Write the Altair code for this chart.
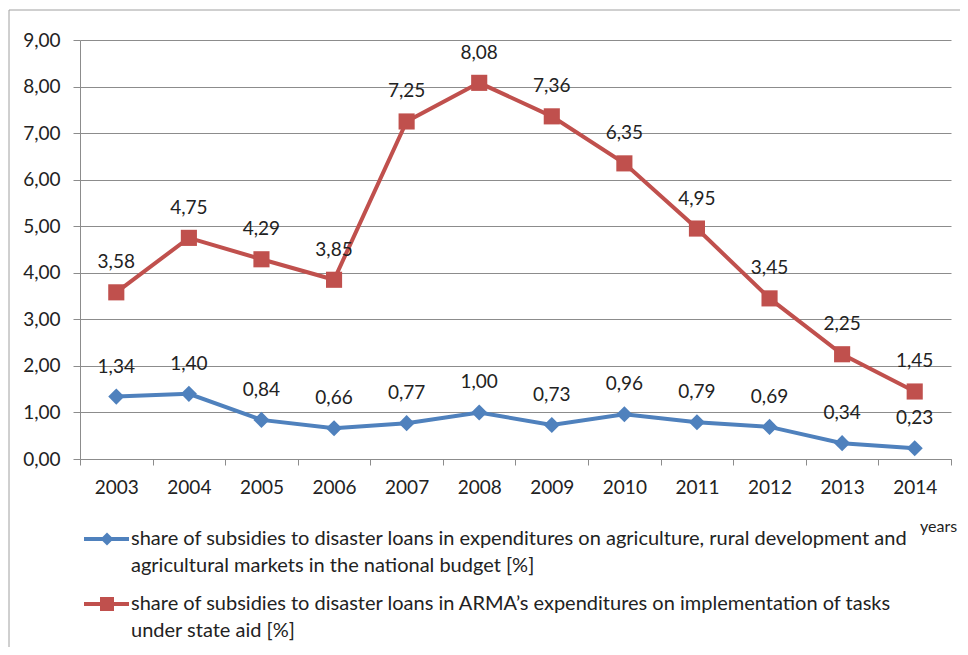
import altair as alt
import pandas as pd

# ---- data ----
years = [str(y) for y in range(2003, 2015)]
national_budget = [1.34, 1.40, 0.84, 0.66, 0.77, 1.00, 0.73, 0.96, 0.79, 0.69, 0.34, 0.23]
arma = [3.58, 4.75, 4.29, 3.85, 7.25, 8.08, 7.36, 6.35, 4.95, 3.45, 2.25, 1.45]
series_keys = ["national", "arma"]
legend_national = ["share of subsidies to disaster loans in expenditures on agriculture, rural development and",
                   "agricultural markets in the national budget [%]"]
legend_arma = ["share of subsidies to disaster loans in ARMA\u2019s expenditures on implementation of tasks",
               "under state aid [%]"]
y_ticks = list(range(10))
x_title = "years"

BLUE = "#4F81BD"
RED = "#C0504D"
GRID = "#8C8C8C"
TXT = "#222222"
FONT = "Lato"
FS = 19

df = pd.DataFrame({
    "year": years * 2,
    "value": national_budget + arma,
    "series": ["national"] * len(years) + ["arma"] * len(years),
})

W, H = 871, 419

x_enc = alt.X(
    "year:O",
    scale=alt.Scale(type="band", paddingInner=0, paddingOuter=0),
    bandPosition=0.5,
    axis=alt.Axis(title=None, tickBand="extent", labelAngle=0, grid=False,
                  domainColor=GRID, tickColor=GRID, tickSize=6,
                  labelPadding=22, labelBaseline="middle",
                  labelFont=FONT, labelFontSize=FS, labelColor=TXT),
)
y_enc = alt.Y(
    "value:Q",
    scale=alt.Scale(domain=[0, 9], nice=False, zero=True),
    axis=alt.Axis(title=None, values=y_ticks, grid=True, gridColor=GRID, gridWidth=1,
                  domainColor=GRID, tickColor=GRID, tickSize=7, labelPadding=13,
                  labelExpr="replace(format(datum.value, '.2f'), '.', ',')",
                  labelFont=FONT, labelFontSize=FS, labelColor=TXT),
)
color_enc = alt.Color("series:N", scale=alt.Scale(domain=series_keys, range=[BLUE, RED]), legend=None)
shape_enc = alt.Shape("series:N", scale=alt.Scale(domain=series_keys, range=["diamond", "square"]), legend=None)

base = alt.Chart(df)
lines = base.mark_line(strokeWidth=4).encode(x=x_enc, y=y_enc, color=color_enc)
points = base.mark_point(filled=True, size=260, opacity=1).encode(x=x_enc, y=y_enc, color=color_enc, shape=shape_enc)
labels = base.transform_calculate(
    label="replace(format(datum.value, '.2f'), '.', ',')"
).mark_text(dy=-30, font=FONT, fontSize=FS, color=TXT).encode(x=x_enc, y=y_enc, text="label:N")

one = alt.Data(values=[{"k": 1}])

# outer frame (left and top edges)
frame_left = alt.Chart(one).mark_rule(color="#A0A0A0", strokeWidth=1).encode(
    x=alt.value(-71), y=alt.value(-30), y2=alt.value(620))
frame_top = alt.Chart(one).mark_rule(color="#A0A0A0", strokeWidth=1).encode(
    x=alt.value(-71), x2=alt.value(890), y=alt.value(-30))

# manual legend
leg = []
for key, col, shp, sz, y0, txt in [("national", BLUE, "diamond", 170, 499, legend_national),
                                    ("arma", RED, "square", 196, 564, legend_arma)]:
    leg.append(alt.Chart(one).mark_rule(color=col, strokeWidth=4).encode(
        x=alt.value(4), x2=alt.value(49), y=alt.value(y0)))
    leg.append(alt.Chart(one).mark_point(filled=True, opacity=1, color=col, shape=shp, size=sz).encode(
        x=alt.value(27), y=alt.value(y0)))
    for i, line in enumerate(txt):
        leg.append(alt.Chart(one).mark_text(align="left", baseline="middle", font=FONT, fontSize=20,
                                            color=TXT, text=line).encode(
            x=alt.value(51), y=alt.value(y0 + 27 * i)))

years_lbl = alt.Chart(one).mark_text(align="left", baseline="middle", font=FONT, fontSize=16,
                                     color=TXT, text=x_title).encode(x=alt.value(840), y=alt.value(487))

chart = alt.layer(frame_left, frame_top, lines, points, labels, years_lbl, *leg).properties(
    width=W, height=H,
    autosize=alt.AutoSizeParams(type="none"),
    padding={"left": 72, "top": 32, "right": 9, "bottom": 188},
    background="white",
).configure_view(stroke=None)

chart.save("out.html", embed_options={"renderer": "svg", "actions": False})
